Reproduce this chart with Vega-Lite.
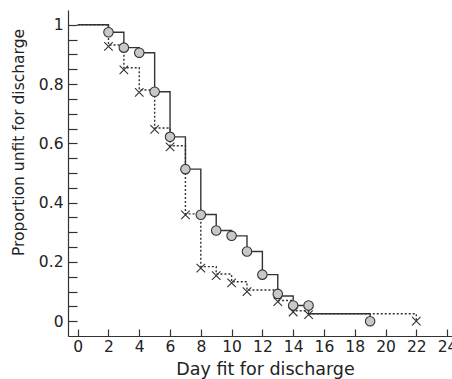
{
  "$schema": "https://vega.github.io/schema/vega-lite/v6.json",
  "width": 384,
  "height": 326,
  "autosize": "none",
  "padding": {"left": 68, "top": 10, "right": 0, "bottom": 43},
  "background": "white",
  "config": {
    "view": {"stroke": null},
    "font": "DejaVu Sans",
    "axis": {
      "grid": false,
      "domainColor": "#333",
      "tickColor": "#333",
      "labelColor": "#222",
      "titleColor": "#222",
      "labelFont": "DejaVu Sans",
      "titleFont": "DejaVu Sans",
      "labelFontSize": 15.5,
      "titleFontSize": 17,
      "titleFontWeight": "normal",
      "domainWidth": 1.2,
      "tickWidth": 1.2
    }
  },
  "datasets": {
    "steps": [
      {"group": "Placebo", "day": 0, "p": 1},
      {"group": "Placebo", "day": 2, "p": 0.975},
      {"group": "Placebo", "day": 3, "p": 0.923},
      {"group": "Placebo", "day": 4, "p": 0.906},
      {"group": "Placebo", "day": 5, "p": 0.774},
      {"group": "Placebo", "day": 6, "p": 0.622},
      {"group": "Placebo", "day": 7, "p": 0.513},
      {"group": "Placebo", "day": 8, "p": 0.36},
      {"group": "Placebo", "day": 9, "p": 0.306},
      {"group": "Placebo", "day": 10, "p": 0.288},
      {"group": "Placebo", "day": 11, "p": 0.235},
      {"group": "Placebo", "day": 12, "p": 0.157},
      {"group": "Placebo", "day": 13, "p": 0.085},
      {"group": "Placebo", "day": 14, "p": 0.053},
      {"group": "Placebo", "day": 15, "p": 0.025},
      {"group": "Placebo", "day": 19, "p": 0},
      {"group": "Aminophylline", "day": 0, "p": 1},
      {"group": "Aminophylline", "day": 2, "p": 0.932},
      {"group": "Aminophylline", "day": 3, "p": 0.855},
      {"group": "Aminophylline", "day": 4, "p": 0.78},
      {"group": "Aminophylline", "day": 5, "p": 0.652},
      {"group": "Aminophylline", "day": 6, "p": 0.592},
      {"group": "Aminophylline", "day": 7, "p": 0.362},
      {"group": "Aminophylline", "day": 8, "p": 0.184},
      {"group": "Aminophylline", "day": 9, "p": 0.159},
      {"group": "Aminophylline", "day": 10, "p": 0.133},
      {"group": "Aminophylline", "day": 11, "p": 0.105},
      {"group": "Aminophylline", "day": 13, "p": 0.07},
      {"group": "Aminophylline", "day": 14, "p": 0.035},
      {"group": "Aminophylline", "day": 15, "p": 0.025},
      {"group": "Aminophylline", "day": 22, "p": 0}
    ],
    "points": [
      {"series": "Placebo", "day": 2, "p": 0.975},
      {"series": "Placebo", "day": 3, "p": 0.923},
      {"series": "Placebo", "day": 4, "p": 0.906},
      {"series": "Placebo", "day": 5, "p": 0.774},
      {"series": "Placebo", "day": 6, "p": 0.622},
      {"series": "Placebo", "day": 7, "p": 0.513},
      {"series": "Placebo", "day": 8, "p": 0.359},
      {"series": "Placebo", "day": 9, "p": 0.306},
      {"series": "Placebo", "day": 10, "p": 0.288},
      {"series": "Placebo", "day": 11, "p": 0.235},
      {"series": "Placebo", "day": 12, "p": 0.157},
      {"series": "Placebo", "day": 13, "p": 0.092},
      {"series": "Placebo", "day": 14, "p": 0.053},
      {"series": "Placebo", "day": 15, "p": 0.053},
      {"series": "Placebo", "day": 19, "p": 0},
      {"series": "Aminophylline", "day": 2, "p": 0.927},
      {"series": "Aminophylline", "day": 3, "p": 0.848},
      {"series": "Aminophylline", "day": 4, "p": 0.772},
      {"series": "Aminophylline", "day": 5, "p": 0.647},
      {"series": "Aminophylline", "day": 6, "p": 0.588},
      {"series": "Aminophylline", "day": 7, "p": 0.359},
      {"series": "Aminophylline", "day": 8, "p": 0.179},
      {"series": "Aminophylline", "day": 9, "p": 0.154},
      {"series": "Aminophylline", "day": 10, "p": 0.129},
      {"series": "Aminophylline", "day": 11, "p": 0.1},
      {"series": "Aminophylline", "day": 13, "p": 0.066},
      {"series": "Aminophylline", "day": 14, "p": 0.031},
      {"series": "Aminophylline", "day": 15, "p": 0.022},
      {"series": "Aminophylline", "day": 22, "p": 0}
    ],
    "legend_box": [{"box": "legend"}],
    "legend_amino": [{"label": "Aminophylline", "glyph": "×"}],
    "legend_placebo": [{"label": "Placebo"}]
  },
  "encoding": {
    "x": {
      "field": "day",
      "type": "quantitative",
      "scale": {"domain": [-0.63, 24.32], "nice": false, "zero": false},
      "axis": {
        "values": [0, 2, 4, 6, 8, 10, 12, 14, 16, 18, 20, 22, 24],
        "tickSize": -7,
        "labelPadding": 10.5,
        "format": "d",
        "title": "Day fit for discharge",
        "titleFontSize": 17.5,
        "titleX": 197,
        "titleY": 38,
        "titleBaseline": "alphabetic",
        "titleAlign": "center"
      }
    },
    "y": {
      "field": "p",
      "type": "quantitative",
      "scale": {"domain": [-0.05, 1.05], "nice": false, "zero": false},
      "axis": {
        "values": [0, 0.05, 0.1, 0.15, 0.2, 0.25, 0.3, 0.35, 0.4, 0.45, 0.5, 0.55, 0.6, 0.65, 0.7, 0.75, 0.8, 0.85, 0.9, 0.95, 1],
        "tickSize": -9,
        "labelPadding": 14,
        "labelExpr": "abs(datum.value*5-round(datum.value*5))<0.001 ? format(datum.value,'.1~f') : ''",
        "title": "Proportion unfit for discharge",
        "titleFontSize": 15.5,
        "titleX": -50,
        "titleY": 132,
        "titleAlign": "center",
        "titleBaseline": "middle",
        "titleAngle": -90
      }
    }
  },
  "layer": [
    {
      "data": {"name": "steps"},
      "mark": {"type": "line", "interpolate": "step-after", "color": "#333", "strokeWidth": 1.4},
      "encoding": {
        "strokeDash": {
          "field": "group",
          "type": "nominal",
          "scale": {"domain": ["Aminophylline", "Placebo"], "range": [[2, 2], [1, 0]]},
          "legend": null
        }
      }
    },
    {
      "data": {"name": "points"},
      "transform": [{"filter": "datum.series === 'Placebo'"}],
      "mark": {"type": "point", "shape": "circle", "filled": true, "fill": "#c8c8c8", "stroke": "#333", "strokeWidth": 1.1, "opacity": 1, "size": 90}
    },
    {
      "data": {"name": "legend_box"},
      "mark": {"type": "rect", "fill": "white", "stroke": "#333", "strokeWidth": 1.2},
      "encoding": {
        "x": {"datum": 12.62, "type": "quantitative", "scale": {"domain": [-0.63, 24.32], "nice": false, "zero": false}, "axis": {"values": [0, 2, 4, 6, 8, 10, 12, 14, 16, 18, 20, 22, 24], "tickSize": -7, "labelPadding": 10.5, "format": "d", "title": "Day fit for discharge", "titleFontSize": 17.5, "titleX": 197, "titleY": 38, "titleBaseline": "alphabetic", "titleAlign": "center"}},
        "x2": {"datum": 23.28},
        "y": {"datum": 0.969, "type": "quantitative", "scale": {"domain": [-0.05, 1.05], "nice": false, "zero": false}, "axis": {"values": [0, 0.05, 0.1, 0.15, 0.2, 0.25, 0.3, 0.35, 0.4, 0.45, 0.5, 0.55, 0.6, 0.65, 0.7, 0.75, 0.8, 0.85, 0.9, 0.95, 1], "tickSize": -9, "labelPadding": 14, "labelExpr": "abs(datum.value*5-round(datum.value*5))<0.001 ? format(datum.value,'.1~f') : ''", "title": "Proportion unfit for discharge", "titleFontSize": 15.5, "titleX": -50, "titleY": 132, "titleAlign": "center", "titleBaseline": "middle", "titleAngle": -90}},
        "y2": {"datum": 0.756}
      }
    },
    {
      "data": {"name": "legend_placebo"},
      "mark": {"type": "point", "shape": "circle", "filled": true, "fill": "#c8c8c8", "stroke": "#333", "strokeWidth": 1.1, "size": 85, "opacity": 1},
      "encoding": {
        "x": {"datum": 13.6, "type": "quantitative", "scale": {"domain": [-0.63, 24.32], "nice": false, "zero": false}, "axis": {"values": [0, 2, 4, 6, 8, 10, 12, 14, 16, 18, 20, 22, 24], "tickSize": -7, "labelPadding": 10.5, "format": "d", "title": "Day fit for discharge", "titleFontSize": 17.5, "titleX": 197, "titleY": 38, "titleBaseline": "alphabetic", "titleAlign": "center"}},
        "y": {"datum": 0.81, "type": "quantitative", "scale": {"domain": [-0.05, 1.05], "nice": false, "zero": false}, "axis": {"values": [0, 0.05, 0.1, 0.15, 0.2, 0.25, 0.3, 0.35, 0.4, 0.45, 0.5, 0.55, 0.6, 0.65, 0.7, 0.75, 0.8, 0.85, 0.9, 0.95, 1], "tickSize": -9, "labelPadding": 14, "labelExpr": "abs(datum.value*5-round(datum.value*5))<0.001 ? format(datum.value,'.1~f') : ''", "title": "Proportion unfit for discharge", "titleFontSize": 15.5, "titleX": -50, "titleY": 132, "titleAlign": "center", "titleBaseline": "middle", "titleAngle": -90}}
      }
    },
    {
      "data": {"name": "legend_amino"},
      "mark": {"type": "text", "align": "center", "baseline": "middle", "font": "DejaVu Sans", "fontSize": 15, "color": "#222"},
      "encoding": {
        "x": {"datum": 13.6, "type": "quantitative", "scale": {"domain": [-0.63, 24.32], "nice": false, "zero": false}, "axis": {"values": [0, 2, 4, 6, 8, 10, 12, 14, 16, 18, 20, 22, 24], "tickSize": -7, "labelPadding": 10.5, "format": "d", "title": "Day fit for discharge", "titleFontSize": 17.5, "titleX": 197, "titleY": 38, "titleBaseline": "alphabetic", "titleAlign": "center"}},
        "y": {"datum": 0.912, "type": "quantitative", "scale": {"domain": [-0.05, 1.05], "nice": false, "zero": false}, "axis": {"values": [0, 0.05, 0.1, 0.15, 0.2, 0.25, 0.3, 0.35, 0.4, 0.45, 0.5, 0.55, 0.6, 0.65, 0.7, 0.75, 0.8, 0.85, 0.9, 0.95, 1], "tickSize": -9, "labelPadding": 14, "labelExpr": "abs(datum.value*5-round(datum.value*5))<0.001 ? format(datum.value,'.1~f') : ''", "title": "Proportion unfit for discharge", "titleFontSize": 15.5, "titleX": -50, "titleY": 132, "titleAlign": "center", "titleBaseline": "middle", "titleAngle": -90}},
        "text": {"field": "glyph", "type": "nominal"}
      }
    },
    {
      "data": {"name": "legend_amino"},
      "mark": {"type": "text", "align": "left", "baseline": "middle", "font": "DejaVu Sans", "fontSize": 17.5, "color": "#222"},
      "encoding": {
        "x": {"datum": 14.4, "type": "quantitative", "scale": {"domain": [-0.63, 24.32], "nice": false, "zero": false}, "axis": {"values": [0, 2, 4, 6, 8, 10, 12, 14, 16, 18, 20, 22, 24], "tickSize": -7, "labelPadding": 10.5, "format": "d", "title": "Day fit for discharge", "titleFontSize": 17.5, "titleX": 197, "titleY": 38, "titleBaseline": "alphabetic", "titleAlign": "center"}},
        "y": {"datum": 0.912, "type": "quantitative", "scale": {"domain": [-0.05, 1.05], "nice": false, "zero": false}, "axis": {"values": [0, 0.05, 0.1, 0.15, 0.2, 0.25, 0.3, 0.35, 0.4, 0.45, 0.5, 0.55, 0.6, 0.65, 0.7, 0.75, 0.8, 0.85, 0.9, 0.95, 1], "tickSize": -9, "labelPadding": 14, "labelExpr": "abs(datum.value*5-round(datum.value*5))<0.001 ? format(datum.value,'.1~f') : ''", "title": "Proportion unfit for discharge", "titleFontSize": 15.5, "titleX": -50, "titleY": 132, "titleAlign": "center", "titleBaseline": "middle", "titleAngle": -90}},
        "text": {"field": "label", "type": "nominal"}
      }
    },
    {
      "data": {"name": "legend_placebo"},
      "mark": {"type": "text", "align": "left", "baseline": "middle", "font": "DejaVu Sans", "fontSize": 17.5, "color": "#222"},
      "encoding": {
        "x": {"datum": 14.4, "type": "quantitative", "scale": {"domain": [-0.63, 24.32], "nice": false, "zero": false}, "axis": {"values": [0, 2, 4, 6, 8, 10, 12, 14, 16, 18, 20, 22, 24], "tickSize": -7, "labelPadding": 10.5, "format": "d", "title": "Day fit for discharge", "titleFontSize": 17.5, "titleX": 197, "titleY": 38, "titleBaseline": "alphabetic", "titleAlign": "center"}},
        "y": {"datum": 0.81, "type": "quantitative", "scale": {"domain": [-0.05, 1.05], "nice": false, "zero": false}, "axis": {"values": [0, 0.05, 0.1, 0.15, 0.2, 0.25, 0.3, 0.35, 0.4, 0.45, 0.5, 0.55, 0.6, 0.65, 0.7, 0.75, 0.8, 0.85, 0.9, 0.95, 1], "tickSize": -9, "labelPadding": 14, "labelExpr": "abs(datum.value*5-round(datum.value*5))<0.001 ? format(datum.value,'.1~f') : ''", "title": "Proportion unfit for discharge", "titleFontSize": 15.5, "titleX": -50, "titleY": 132, "titleAlign": "center", "titleBaseline": "middle", "titleAngle": -90}},
        "text": {"field": "label", "type": "nominal"}
      }
    },
    {
      "data": {"name": "points"},
      "transform": [{"filter": "datum.series === 'Aminophylline'"}],
      "mark": {"type": "point", "shape": "M-0.9,-0.9L0.9,0.9M0.9,-0.9L-0.9,0.9", "filled": false, "stroke": "#333", "strokeWidth": 1.1, "opacity": 1, "size": 90}
    }
  ]
}
